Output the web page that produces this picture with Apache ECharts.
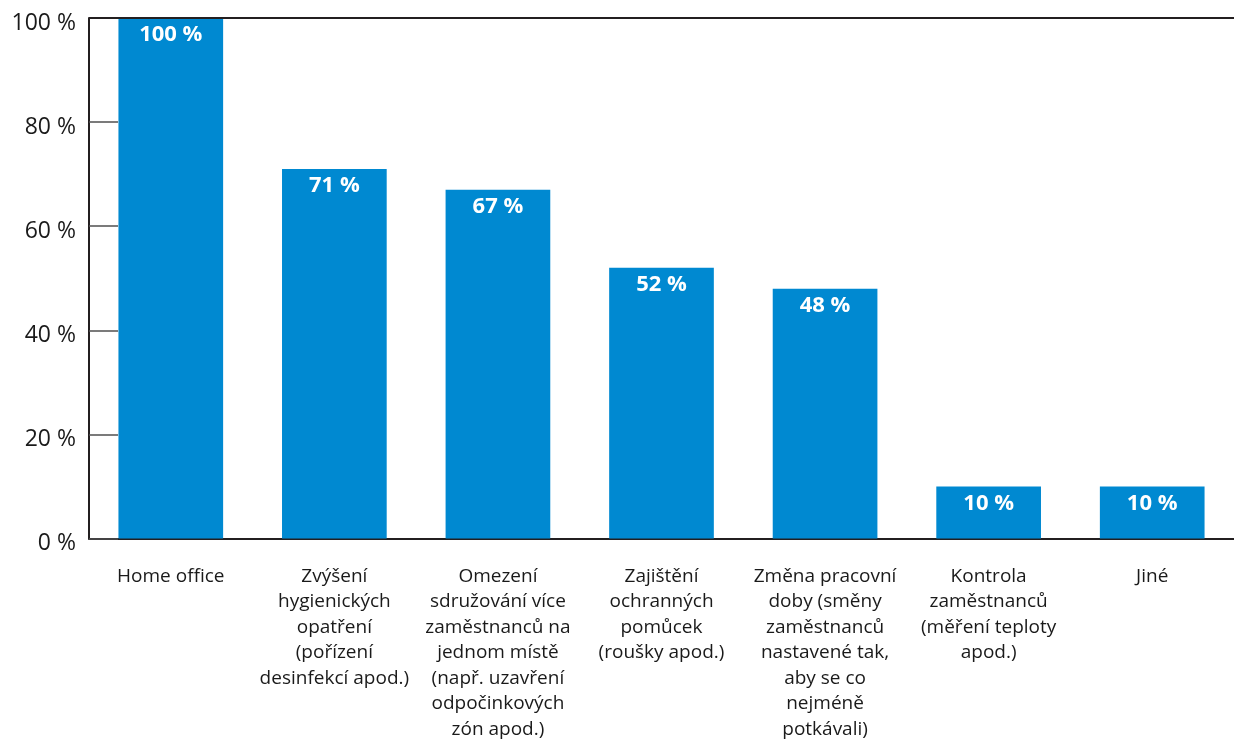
<!DOCTYPE html>
<html>
<head>
<meta charset="utf-8">
<script src="https://cdn.jsdelivr.net/npm/echarts@6/dist/echarts.min.js"></script>
<style>
  html, body { margin: 0; padding: 0; background: #fff; overflow: hidden; }
  #chart { width: 1234px; height: 742px; }
</style>
</head>
<body>
<div id="chart"></div>
<script>
// Category labels (line breaks as shown under each bar)
const categories = [
  'Home office',
  'Zvýšení\nhygienických\nopatření\n(pořízení\ndesinfekcí apod.)',
  'Omezení\nsdružování více\nzaměstnanců na\njednom místě\n(např. uzavření\nodpočinkových\nzón apod.)',
  'Zajištění\nochranných\npomůcek\n(roušky apod.)',
  'Změna pracovní\ndoby (směny\nzaměstnanců\nnastavené tak,\naby se co\nnejméně\npotkávali)',
  'Kontrola\nzaměstnanců\n(měření teploty\napod.)',
  'Jiné'
];
// Share of companies per measure, in percent
const values = [100, 71, 67, 52, 48, 10, 10];
// Value axis ticks
const yTicks = [0, 20, 40, 60, 80, 100];

const chart = echarts.init(document.getElementById('chart'), null, { renderer: 'canvas' });
const font = '"Open Sans", "Noto Sans", sans-serif';

chart.setOption({
  animation: false,
  grid: { left: 89, top: 18, width: 1157, height: 524, containLabel: false },
  xAxis: {
    type: 'category',
    data: categories,
    axisLine: { show: true, lineStyle: { color: '#231f20', width: 2 } },
    axisTick: { show: false },
    axisLabel: {
      interval: 0,
      margin: 25,
      color: '#1a1a1a',
      fontFamily: font,
      fontSize: 19,
      lineHeight: 25.5,
      align: 'center'
    }
  },
  yAxis: {
    type: 'value',
    min: yTicks[0],
    max: yTicks[yTicks.length - 1],
    interval: 20,
    axisLine: { show: true, lineStyle: { color: '#231f20', width: 2 } },
    axisTick: { show: true, inside: true, length: 29, lineStyle: { color: '#505050', width: 1.5 } },
    splitLine: { show: false },
    axisLabel: {
      margin: 13,
      color: '#1a1a1a',
      fontFamily: font,
      fontSize: 23,
      // tick labels sit slightly below their tick
      verticalAlign: 'top',
      lineHeight: 10,
      formatter: v => v + ' %'
    }
  },
  series: [{
    type: 'bar',
    data: values,
    barWidth: '64%',
    z: 3,
    itemStyle: { color: '#0089d1' },
    label: {
      show: true,
      position: 'insideTop',
      distance: 6,
      color: '#ffffff',
      fontFamily: font,
      fontWeight: 'bold',
      fontSize: 22,
      formatter: p => p.value + ' %'
    },
    // top edge of the plot frame
    markLine: {
      silent: true,
      symbol: 'none',
      label: { show: false },
      lineStyle: { color: '#231f20', width: 2, type: 'solid' },
      data: [{ yAxis: yTicks[yTicks.length - 1] }]
    }
  }]
});
</script>
</body>
</html>
